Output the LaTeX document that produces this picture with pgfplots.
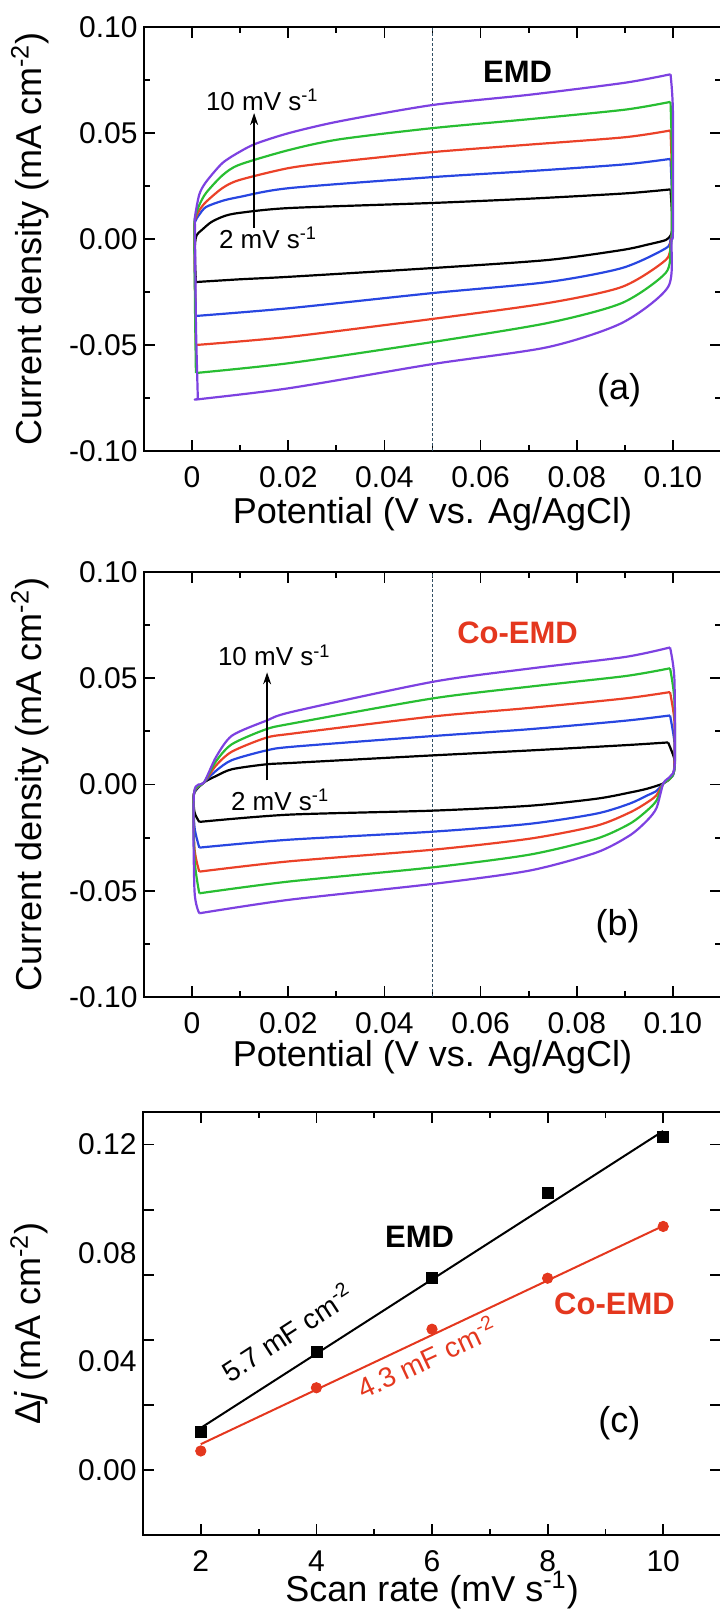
\documentclass[border=0pt]{standalone}
\usepackage{fontspec}
\setmainfont{Liberation Sans}
\usepackage{pgfplots}
\pgfplotsset{compat=1.18}
\usetikzlibrary{arrows.meta}
\definecolor{cvblue}{RGB}{40,70,225}
\definecolor{cvred}{RGB}{235,65,40}
\definecolor{cvgreen}{RGB}{40,190,50}
\definecolor{cvpurple}{RGB}{125,65,225}
\definecolor{dashc}{RGB}{50,80,100}
\definecolor{coRed}{RGB}{228,55,30}
\pgfplotsset{
  common/.style={
    scale only axis,
    tick align=inside,
    major tick length=5.5pt, minor tick length=3pt,
    every tick/.style={black, line width=0.9pt},
    axis line style={line width=1pt},
    tick label style={font=\fontsize{15}{18}\selectfont},
    xticklabel style={inner sep=0pt, anchor=north, yshift=-7.5pt},
    yticklabel style={inner sep=0pt, anchor=east, xshift=-3pt},
    label style={font=\fontsize{18}{21}\selectfont},
    /pgf/number format/assume math mode=true,
  },
  cvaxis/.style={common,
    width=288.5pt, height=212pt,
    xmin=-0.01, xmax=0.11, ymin=-0.1, ymax=0.1,
    xtick={0,0.02,0.04,0.06,0.08,0.1},
    xticklabels={0,0.02,0.04,0.06,0.08,0.10},
    minor x tick num=1,
    ytick={-0.1,-0.05,0,0.05,0.1},
    yticklabels={-0.10,-0.05,0.00,0.05,0.10},
    minor y tick num=1,
    xlabel={Potential (V vs. Ag/AgCl)},
    ylabel={Current density (mA cm\textsuperscript{-2})},
    ylabel style={at={(axis description cs:-0.198,0.5)}, anchor=center},
  },
  cv/.style={line width=1.1pt, line join=round, smooth, tension=0.45},
}
\begin{document}
\begin{tikzpicture}
\path[use as bounding box] (0,0) rectangle (359.5pt,-808pt);

% ---------------- (a) EMD ----------------
\begin{axis}[cvaxis, at={(72pt,-225.5pt)}, anchor=south west,
  xlabel style={at={(axis description cs:0.5,-0.1486)}, anchor=center}]
\addplot[dashc, line width=0.6pt, dash pattern=on 1.5pt off 1pt] coordinates {(0.05,-0.1) (0.05,0.1)};
% 2 mV/s
\addplot[cv, black] coordinates {(0.0008,-0.0203)(0.0006,-0.010)(0.0006,-0.002)(0.001,0.002)(0.002,0.0042)(0.004,0.008)(0.0067,0.0108)(0.0098,0.0123)(0.0202,0.0146)(0.05,0.017)(0.07,0.019)(0.09,0.0215)(0.0995,0.0234)};
\addplot[cv, black] coordinates {(0.0995,0.0234)(0.0998,0.012)(0.0998,0.004)(0.0995,0.0016)(0.0985,-0.0005)(0.095,-0.0025)(0.0894,-0.0052)(0.074,-0.0099)(0.05,-0.0137)(0.0204,-0.0178)(0.01,-0.019)(0.0008,-0.0203)};
% 4 mV/s
\addplot[cv, cvblue] coordinates {(0.0008,-0.0363)(0.0006,-0.020)(0.0005,0.002)(0.0006,0.008)(0.0015,0.0115)(0.0029,0.0151)(0.0063,0.018)(0.0098,0.0198)(0.0202,0.024)(0.05,0.0292)(0.07,0.032)(0.09,0.0352)(0.0995,0.0378)};
\addplot[cv, cvblue] coordinates {(0.0995,0.0378)(0.0998,0.02)(0.0998,0.004)(0.0995,0.0)(0.0985,-0.0044)(0.0894,-0.0137)(0.074,-0.0203)(0.05,-0.0255)(0.0204,-0.0326)(0.0008,-0.0363)};
% 6 mV/s
\addplot[cv, cvred] coordinates {(0.0008,-0.050)(0.0006,-0.02)(0.0005,0.003)(0.0006,0.009)(0.0015,0.0135)(0.0029,0.0175)(0.0063,0.024)(0.0098,0.0278)(0.0202,0.0335)(0.0306,0.0365)(0.05,0.041)(0.07,0.0445)(0.09,0.048)(0.0995,0.0512)};
\addplot[cv, cvred] coordinates {(0.0995,0.0512)(0.0998,0.03)(0.0998,0.004)(0.0995,-0.002)(0.0985,-0.0099)(0.0894,-0.0226)(0.074,-0.0302)(0.05,-0.0377)(0.0204,-0.0461)(0.0008,-0.050)};
% 8 mV/s
\addplot[cv, cvgreen] coordinates {(0.0008,-0.0632)(0.0006,-0.03)(0.0005,0.004)(0.0006,0.010)(0.0015,0.016)(0.0029,0.0217)(0.0063,0.030)(0.0098,0.035)(0.0202,0.042)(0.0306,0.047)(0.05,0.0523)(0.07,0.0565)(0.09,0.061)(0.0995,0.0647)};
\addplot[cv, cvgreen] coordinates {(0.0995,0.0647)(0.0998,0.04)(0.0998,0.004)(0.0995,-0.004)(0.0985,-0.016)(0.0894,-0.0302)(0.074,-0.0396)(0.05,-0.0486)(0.0204,-0.0585)(0.0008,-0.0632)};
% 10 mV/s
\addplot[cv, cvpurple] coordinates {(0.0012,-0.0755)(0.0008,-0.04)(0.0006,0.005)(0.0006,0.0104)(0.0015,0.021)(0.0029,0.0269)(0.0063,0.0358)(0.0098,0.041)(0.0133,0.045)(0.0202,0.050)(0.0306,0.0555)(0.05,0.0632)(0.07,0.068)(0.09,0.0737)(0.0995,0.0777)};
\addplot[cv, cvpurple] coordinates {(0.0995,0.0777)(0.1,0.06)(0.1,0.004)(0.0997,-0.001)(0.099,-0.0226)(0.0894,-0.0396)(0.074,-0.051)(0.05,-0.059)(0.0204,-0.0703)(0.0017,-0.0755)(0.0012,-0.0755)};
\node[font=\fontsize{15.5}{18}\selectfont\bfseries] at (axis cs:0.0677,0.0788) {EMD};
\node[font=\fontsize{13}{15}\selectfont] at (axis cs:0.0146,0.0656) {10 mV s\textsuperscript{-1}};
\node[font=\fontsize{13}{15}\selectfont] at (axis cs:0.0158,0.0005) {2 mV s\textsuperscript{-1}};
\draw[-{Stealth[length=6pt,width=4pt]}, line width=0.8pt] (axis cs:0.0129,0.0052) -- (axis cs:0.0129,0.0594);
\node[font=\fontsize{18}{21}\selectfont] at (axis cs:0.0888,-0.0712) {(a)};
\end{axis}

% ---------------- (b) Co-EMD ----------------
\begin{axis}[cvaxis, height=212.5pt, at={(72pt,-498.5pt)}, anchor=south west,
  xlabel style={at={(axis description cs:0.5,-0.141)}, anchor=center}]
\addplot[dashc, line width=0.6pt, dash pattern=on 1.5pt off 1pt] coordinates {(0.05,-0.1) (0.05,0.1)};
% 2 mV/s
\addplot[cv, black] coordinates {(0.0015,-0.0176)(0.0005,-0.013)(0.0004,-0.0042)(0.0025,0.001)(0.005,0.004)(0.0083,0.0072)(0.0154,0.0095)(0.021,0.0102)(0.05,0.0137)(0.07,0.016)(0.09,0.0185)(0.099,0.0198)};
\addplot[cv, black] coordinates {(0.099,0.0198)(0.1003,0.012)(0.1002,0.006)(0.0995,0.003)(0.098,0.0005)(0.0946,-0.002)(0.091,-0.0038)(0.0841,-0.0067)(0.0702,-0.010)(0.05,-0.0123)(0.02,-0.0142)(0.0015,-0.0176)};
% 4 mV/s
\addplot[cv, cvblue] coordinates {(0.0015,-0.0297)(0.0005,-0.02)(0.0004,-0.0042)(0.0025,0.001)(0.005,0.0065)(0.0083,0.0115)(0.0154,0.016)(0.021,0.0178)(0.05,0.0228)(0.07,0.026)(0.09,0.030)(0.0994,0.0325)};
\addplot[cv, cvblue] coordinates {(0.0994,0.0325)(0.1003,0.02)(0.1002,0.006)(0.0995,0.003)(0.098,0.0005)(0.0966,-0.003)(0.0946,-0.0052)(0.091,-0.009)(0.0841,-0.0137)(0.0702,-0.0185)(0.05,-0.0222)(0.02,-0.026)(0.0015,-0.0297)};
% 6 mV/s
\addplot[cv, cvred] coordinates {(0.0015,-0.041)(0.0005,-0.03)(0.0004,-0.0042)(0.0025,0.001)(0.005,0.009)(0.0083,0.0155)(0.0154,0.022)(0.021,0.024)(0.05,0.032)(0.07,0.036)(0.09,0.0405)(0.0994,0.0435)};
\addplot[cv, cvred] coordinates {(0.0994,0.0435)(0.1003,0.03)(0.1003,0.008)(0.0995,0.003)(0.098,0.0005)(0.0966,-0.005)(0.0946,-0.0085)(0.091,-0.0132)(0.0841,-0.0194)(0.0702,-0.0255)(0.05,-0.0307)(0.02,-0.0362)(0.0015,-0.041)};
% 8 mV/s
\addplot[cv, cvgreen] coordinates {(0.0015,-0.0512)(0.0005,-0.035)(0.0004,-0.0042)(0.0025,0.001)(0.005,0.011)(0.0083,0.019)(0.0154,0.026)(0.021,0.0288)(0.05,0.0405)(0.07,0.046)(0.09,0.051)(0.0994,0.0547)};
\addplot[cv, cvgreen] coordinates {(0.0994,0.0547)(0.1003,0.04)(0.1004,0.009)(0.0995,0.003)(0.098,0.0005)(0.0966,-0.0075)(0.0946,-0.0123)(0.091,-0.0185)(0.0841,-0.0255)(0.0702,-0.033)(0.05,-0.039)(0.02,-0.0457)(0.0015,-0.0512)};
% 10 mV/s
\addplot[cv, cvpurple] coordinates {(0.0015,-0.0606)(0.0005,-0.05)(0.0004,-0.0042)(0.0025,0.001)(0.005,0.013)(0.0083,0.023)(0.0154,0.030)(0.021,0.0343)(0.05,0.0483)(0.07,0.0545)(0.09,0.060)(0.0994,0.0645)};
\addplot[cv, cvpurple] coordinates {(0.0994,0.0645)(0.1003,0.05)(0.1004,0.01)(0.0995,0.004)(0.098,0.0005)(0.0966,-0.011)(0.0946,-0.017)(0.091,-0.024)(0.0841,-0.032)(0.0702,-0.0405)(0.05,-0.0468)(0.02,-0.0543)(0.0015,-0.0606)};
\node[font=\fontsize{15.5}{18}\selectfont\bfseries, text=coRed] at (axis cs:0.0677,0.0712) {Co-EMD};
\node[font=\fontsize{13}{15}\selectfont] at (axis cs:0.0171,0.0608) {10 mV s\textsuperscript{-1}};
\node[font=\fontsize{13}{15}\selectfont] at (axis cs:0.0183,-0.0071) {2 mV s\textsuperscript{-1}};
\draw[-{Stealth[length=6pt,width=4pt]}, line width=0.8pt] (axis cs:0.0156,0.0019) -- (axis cs:0.0156,0.0528);
\node[font=\fontsize{18}{21}\selectfont] at (axis cs:0.0885,-0.0665) {(b)};
\end{axis}

% ---------------- (c) ----------------
\begin{axis}[common, width=289pt, height=211.5pt, at={(71.5pt,-767.5pt)}, anchor=south west,
  xmin=1, xmax=11, ymin=-0.024, ymax=0.132,
  xtick={2,4,6,8,10}, minor x tick num=1,
  xticklabels={2,4,6,8,10},
  ytick={0,0.024,0.048,0.072,0.096,0.12},
  yticklabels={,,,,,},
  extra y ticks={0,0.04,0.08,0.12},
  extra y tick labels={0.00,0.04,0.08,0.12},
  extra y tick style={major tick length=0pt},
  xlabel={Scan rate (mV s\textsuperscript{-1})},
  ylabel={Δ\textit{j} (mA cm\textsuperscript{-2})},
  xlabel style={at={(axis description cs:0.5,-0.130)}, anchor=center},
  ylabel style={at={(axis description cs:-0.197,0.5)}, anchor=center}]
\addplot[black, line width=1pt] coordinates {(2,0.0155) (10,0.125)};
\addplot[coRed, line width=1pt] coordinates {(2,0.0095) (10,0.090)};
\addplot[only marks, mark=square*, mark size=2.75pt, black] coordinates {(2,0.014)(4,0.0436)(6,0.0707)(8,0.1023)(10,0.1229)};
\addplot[only marks, mark=*, mark size=2.6pt, coRed, mark options={fill=coRed, draw=coRed}] coordinates {(2,0.0070)(4,0.0303)(6,0.0519)(8,0.0707)(10,0.0898)};
\node[font=\fontsize{15.5}{18}\selectfont\bfseries] at (axis cs:5.786,0.0858) {EMD};
\node[font=\fontsize{14}{16}\selectfont, rotate=33] at (axis cs:3.487,0.0508) {5.7 mF cm\textsuperscript{-2}};
\node[font=\fontsize{14}{16}\selectfont, rotate=25, text=coRed] at (axis cs:5.907,0.0416) {4.3 mF cm\textsuperscript{-2}};
\node[font=\fontsize{15.5}{18}\selectfont\bfseries, text=coRed] at (axis cs:9.157,0.0611) {Co-EMD};
\node[font=\fontsize{18}{21}\selectfont] at (axis cs:9.243,0.0173) {(c)};
\end{axis}
\end{tikzpicture}
\end{document}
